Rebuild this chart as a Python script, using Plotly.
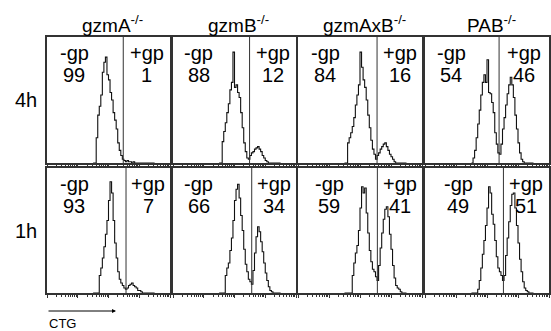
import plotly.graph_objects as go

# ---------------- data ----------------
COLUMNS = ["gzmA", "gzmB", "gzmAxB", "PAB"]
ROWS = ["4h", "1h"]

# histogram bins: left edges in log10(CTG) units, 1.50 .. 3.45 step 0.05
BIN_START_LOG = 1.50
BIN_STEP_LOG = 0.05

# counts per bin (relative event counts)
H_4H_GZMA = [0, 0, 20, 38, 45, 54, 72, 80, 84, 70, 66, 56, 50, 40, 34, 27, 16, 10, 6, 3,
             2, 1, 2, 1, 1, 0, 1, 0, 0, 0, 0, 0, 0, 0, 0, 0, 0, 0, 0, 0]
H_4H_GZMB = [0, 0, 17, 25, 32, 40, 47, 58, 64, 88, 60, 62, 56, 52, 40, 28, 16, 9, 4, 3,
             6, 8, 9, 11, 12, 13, 11, 9, 6, 4, 2, 1, 0, 0, 0, 0, 0, 0, 0, 0]
H_4H_GZMAXB = [0, 0, 16, 20, 24, 29, 36, 46, 54, 62, 88, 76, 66, 60, 50, 38, 28, 18, 11, 7,
               3, 6, 8, 11, 13, 15, 16, 13, 10, 7, 5, 3, 1, 0, 0, 0, 0, 0, 0, 0]
H_4H_PAB = [0, 4, 10, 20, 31, 42, 54, 64, 70, 64, 82, 56, 55, 48, 40, 24, 15, 8, 7, 15,
            27, 36, 46, 55, 62, 68, 62, 52, 38, 27, 16, 8, 3, 1, 0, 0, 0, 0, 0, 0]
H_1H_GZMA = [0, 0, 0, 0, 14, 20, 28, 37, 47, 58, 74, 89, 80, 58, 40, 28, 17, 11, 8, 6,
             4, 3, 4, 6, 7, 8, 6, 5, 4, 2, 2, 1, 0, 0, 0, 0, 0, 0, 0, 0]
H_1H_GZMB = [0, 0, 0, 0, 14, 20, 24, 34, 44, 58, 74, 83, 87, 76, 62, 50, 35, 23, 17, 11,
             9, 7, 18, 32, 45, 53, 49, 41, 33, 24, 16, 10, 5, 2, 1, 0, 0, 0, 0, 0]
H_1H_GZMAXB = [0, 0, 0, 0, 0, 14, 24, 32, 38, 50, 68, 85, 80, 84, 64, 48, 34, 25, 19, 17,
               13, 10, 22, 36, 48, 59, 67, 69, 61, 47, 35, 22, 12, 6, 4, 3, 1, 0, 0, 0]
H_1H_PAB = [0, 0, 0, 0, 3, 10, 20, 31, 42, 54, 68, 85, 80, 63, 55, 42, 29, 20, 17, 14,
            10, 14, 30, 44, 57, 70, 79, 80, 68, 54, 40, 27, 17, 9, 4, 2, 1, 0, 0, 0]

HISTS = [[H_4H_GZMA, H_4H_GZMB, H_4H_GZMAXB, H_4H_PAB],
         [H_1H_GZMA, H_1H_GZMB, H_1H_GZMAXB, H_1H_PAB]]

# gate position (log10 CTG)
GATES_4H = [2.48, 2.49, 2.55, 2.39]
GATES_1H = [2.57, 2.56, 2.56, 2.53]
GATES = [GATES_4H, GATES_1H]

# gate percentages
NEG_4H = [99, 88, 84, 54]
POS_4H = [1, 12, 16, 46]
NEG_1H = [93, 66, 59, 49]
POS_1H = [7, 34, 41, 51]
NEG = [NEG_4H, NEG_1H]
POS = [POS_4H, POS_1H]

# ---------------- layout geometry (pixels) ----------------
W, H = 551, 331
COL_PX = [(47, 170), (173, 296), (298, 422), (425, 549)]
ROW_PX = [(37, 163), (168, 293)]
LEFT_LABEL_X = [[0.22, 0.21, 0.22, 0.21], [0.22, 0.21, 0.25, 0.27]]
X_LOG_RANGE = [0, 4]

FONT = "Liberation Sans, Arial, sans-serif"
FRAME = "#333333"

fig = go.Figure()
layout = dict(
    width=W, height=H, margin=dict(l=0, r=0, t=0, b=0),
    paper_bgcolor="white", plot_bgcolor="white", showlegend=False,
    font=dict(family=FONT, color="black"),
)
annotations = []
shapes = []

for r in range(2):
    for c in range(4):
        n = r * 4 + c + 1
        xa = "xaxis" if n == 1 else f"xaxis{n}"
        ya = "yaxis" if n == 1 else f"yaxis{n}"
        xr = "x" if n == 1 else f"x{n}"
        yr = "y" if n == 1 else f"y{n}"
        counts = HISTS[r][c]
        edges = [10 ** (BIN_START_LOG + i * BIN_STEP_LOG) for i in range(len(counts) + 1)]
        ys = list(counts) + [0]
        fig.add_trace(go.Scatter(
            x=edges, y=ys, mode="lines", line=dict(color="#111111", width=1.1, shape="hv"),
            xaxis=xr, yaxis=yr, hoverinfo="skip",
        ))
        x0, x1 = COL_PX[c]
        y0, y1 = ROW_PX[r]
        layout[xa] = dict(
            domain=[x0 / W, x1 / W], type="log", range=X_LOG_RANGE, anchor=yr,
            showline=True, mirror=True, linecolor=FRAME, linewidth=1.5,
            ticks="outside", ticklen=3, tickcolor=FRAME, tickwidth=1, dtick=1,
            minor=dict(ticks="outside", ticklen=2, tickcolor=FRAME, tickwidth=1, showgrid=False),
            showticklabels=False, showgrid=False, zeroline=False, fixedrange=True,
        )
        layout[ya] = dict(
            domain=[1 - y1 / H, 1 - y0 / H], range=[0, 100], anchor=xr,
            showline=True, mirror=True, linecolor=FRAME, linewidth=1.5,
            ticks="", showticklabels=False, showgrid=False, zeroline=False, fixedrange=True,
        )
        g = GATES[r][c]
        shapes.append(dict(type="line", xref=xr, yref=f"{yr} domain",
                           x0=10 ** g, x1=10 ** g, y0=0, y1=1,
                           line=dict(color=FRAME, width=1)))
        gfrac = (g - X_LOG_RANGE[0]) / (X_LOG_RANGE[1] - X_LOG_RANGE[0])
        rx = (gfrac + 1) / 2
        lx = LEFT_LABEL_X[r][c]
        for txt, xx, yy in [("-gp", lx, 0.875), (str(NEG[r][c]), lx, 0.70),
                            ("+gp", rx, 0.875), (str(POS[r][c]), rx, 0.70)]:
            annotations.append(dict(
                text=txt, xref=f"{xr} domain", yref=f"{yr} domain", x=xx, y=yy,
                xanchor="center", yanchor="middle", showarrow=False,
                font=dict(size=20, family=FONT, color="black"),
            ))

# column headers
for c, name in enumerate(COLUMNS):
    x0, x1 = COL_PX[c]
    annotations.append(dict(
        text=f"{name}<sup>-/-</sup>", xref="paper", yref="paper",
        x=((x0 + x1) / 2 + 4) / W, y=1 - 24 / H, xanchor="center", yanchor="middle",
        showarrow=False, font=dict(size=19, family=FONT, color="black"),
    ))

# row labels
for r, name in enumerate(ROWS):
    y0, y1 = ROW_PX[r]
    annotations.append(dict(
        text=name, xref="paper", yref="paper", x=26 / W, y=1 - ((y0 + y1) / 2) / H,
        xanchor="center", yanchor="middle", showarrow=False,
        font=dict(size=20, family=FONT, color="black"),
    ))

# CTG arrow
annotations.append(dict(
    text="", xref="paper", yref="paper", x=116 / W, y=1 - 311 / H,
    ax=-69, ay=0, axref="pixel", ayref="pixel", showarrow=True,
    arrowhead=2, arrowsize=0.8, arrowwidth=1, arrowcolor="black",
))
annotations.append(dict(
    text="CTG", xref="paper", yref="paper", x=47 / W, y=1 - 323 / H,
    xanchor="left", yanchor="middle", showarrow=False,
    font=dict(size=13, family=FONT, color="black"),
))

layout["annotations"] = annotations
layout["shapes"] = shapes
fig.update_layout(**layout)
fig.write_html("out.html", config={"displayModeBar": False},
               post_script="document.body.style.margin='0';")
